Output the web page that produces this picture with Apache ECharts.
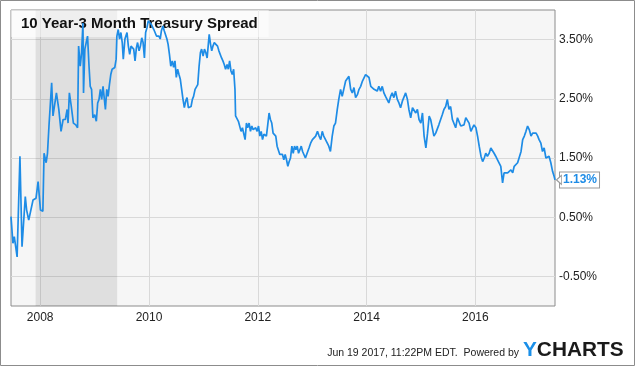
<!DOCTYPE html>
<html>
<head>
<meta charset="utf-8">
<script src="https://cdn.jsdelivr.net/npm/echarts@6/dist/echarts.min.js"></script>
<style>
  html, body { margin: 0; padding: 0; background: #fff; }
  #chart { width: 635px; height: 366px; }
</style>
</head>
<body>
<div id="chart"></div>
<script>
// 10 Year - 3 Month treasury spread, values in percent
const dates = [
  '2007-06-19','2007-07-02','2007-07-11','2007-07-30','2007-08-18','2007-09-01','2007-09-23','2007-10-02','2007-10-16','2007-10-29',
  '2007-11-14','2007-12-04','2007-12-18','2008-01-03','2008-01-19','2008-01-27','2008-02-10','2008-02-19','2008-02-29','2008-03-07',
  '2008-03-18','2008-03-27','2008-04-08','2008-04-19','2008-05-05','2008-05-20','2008-06-03','2008-06-18','2008-06-30','2008-07-06',
  '2008-07-15','2008-07-28','2008-08-11','2008-08-27','2008-09-08','2008-09-15','2008-09-26','2008-10-05','2008-10-14','2008-10-18',
  '2008-10-27','2008-11-06','2008-11-14','2008-11-24','2008-12-02','2008-12-11','2008-12-20','2009-01-01','2009-01-12','2009-01-21',
  '2009-01-30','2009-02-08','2009-02-17','2009-02-26','2009-03-05','2009-03-14','2009-03-23','2009-04-01','2009-04-10','2009-04-19',
  '2009-04-28','2009-05-07','2009-05-16','2009-05-25','2009-05-30','2009-06-08','2009-06-17','2009-06-26','2009-07-05','2009-07-12',
  '2009-07-23','2009-08-06','2009-08-15','2009-08-24','2009-09-02','2009-09-11','2009-09-20','2009-09-29','2009-10-08','2009-10-16',
  '2009-10-26','2009-11-04','2009-11-13','2009-11-22','2009-12-01','2009-12-09','2009-12-18','2009-12-27','2010-01-05','2010-01-15',
  '2010-01-24','2010-02-02','2010-02-11','2010-02-20','2010-03-01','2010-03-08','2010-03-17','2010-03-25','2010-04-04','2010-04-13',
  '2010-04-22','2010-05-01','2010-05-09','2010-05-18','2010-05-27','2010-06-06','2010-06-15','2010-06-24','2010-07-03','2010-07-12',
  '2010-07-21','2010-07-30','2010-08-08','2010-08-17','2010-08-26','2010-09-04','2010-09-13','2010-09-22','2010-10-01','2010-10-10',
  '2010-10-19','2010-10-27','2010-11-06','2010-11-15','2010-11-24','2010-12-03','2010-12-12','2010-12-20','2010-12-30','2011-01-08',
  '2011-01-17','2011-01-26','2011-02-04','2011-02-09','2011-02-18','2011-02-26','2011-03-06','2011-03-15','2011-03-28','2011-04-06',
  '2011-04-15','2011-04-24','2011-05-03','2011-05-12','2011-05-21','2011-05-30','2011-06-09','2011-06-17','2011-06-26','2011-07-05',
  '2011-07-14','2011-07-23','2011-08-01','2011-08-05','2011-08-15','2011-08-24','2011-09-02','2011-09-11','2011-09-20','2011-09-29',
  '2011-10-08','2011-10-17','2011-10-25','2011-11-04','2011-11-13','2011-11-22','2011-12-01','2011-12-10','2011-12-18','2011-12-28',
  '2012-01-06','2012-01-15','2012-01-24','2012-02-02','2012-02-11','2012-02-20','2012-02-28','2012-03-08','2012-03-17','2012-03-26',
  '2012-04-04','2012-04-13','2012-04-22','2012-05-01','2012-05-10','2012-05-19','2012-05-28','2012-06-06','2012-06-15','2012-06-24',
  '2012-07-03','2012-07-12','2012-07-21','2012-07-30','2012-08-08','2012-08-17','2012-08-26','2012-09-04','2012-09-13','2012-09-22',
  '2012-10-01','2012-10-10','2012-10-19','2012-10-28','2012-11-04','2012-11-16','2012-11-29','2012-12-10','2012-12-21','2013-01-02',
  '2013-01-13','2013-01-24','2013-02-05','2013-02-16','2013-02-27','2013-03-09','2013-03-19','2013-04-01','2013-04-12','2013-04-22',
  '2013-05-03','2013-05-15','2013-05-26','2013-06-06','2013-06-18','2013-06-28','2013-07-10','2013-07-21','2013-08-01','2013-08-13',
  '2013-08-24','2013-09-04','2013-09-16','2013-09-27','2013-10-08','2013-10-19','2013-10-31','2013-11-11','2013-11-22','2013-12-04',
  '2013-12-14','2013-12-25','2014-01-07','2014-01-17','2014-01-29','2014-02-10','2014-02-20','2014-03-02','2014-03-13','2014-03-24',
  '2014-04-05','2014-04-16','2014-04-27','2014-05-08','2014-05-19','2014-05-30','2014-06-11','2014-06-22','2014-07-03','2014-07-14',
  '2014-07-26','2014-08-06','2014-08-17','2014-08-29','2014-09-09','2014-09-20','2014-10-02','2014-10-12','2014-10-24','2014-11-05',
  '2014-11-16','2014-11-27','2014-12-08','2014-12-19','2014-12-31','2015-01-11','2015-01-22','2015-02-03','2015-02-14','2015-02-25',
  '2015-03-07','2015-03-18','2015-03-29','2015-04-10','2015-04-21','2015-05-01','2015-05-13','2015-05-24','2015-06-04','2015-06-16',
  '2015-06-27','2015-07-08','2015-07-19','2015-07-31','2015-08-11','2015-08-22','2015-09-03','2015-09-14','2015-09-25','2015-10-07',
  '2015-10-17','2015-10-29','2015-11-10','2015-11-20','2015-12-02','2015-12-13','2015-12-23','2016-01-05','2016-01-16','2016-01-27',
  '2016-02-08','2016-02-19','2016-03-01','2016-03-11','2016-03-22','2016-04-03','2016-04-14','2016-04-25','2016-05-06','2016-05-17',
  '2016-05-29','2016-06-09','2016-06-20','2016-07-02','2016-07-12','2016-07-24','2016-08-05','2016-08-15','2016-08-27','2016-09-08',
  '2016-09-18','2016-09-30','2016-10-11','2016-10-22','2016-11-03','2016-11-14','2016-11-25','2016-12-06','2016-12-17','2016-12-28',
  '2017-01-09','2017-01-20','2017-01-31','2017-02-12','2017-02-23','2017-03-04','2017-03-16','2017-03-27','2017-04-07','2017-04-19',
  '2017-04-30','2017-05-10','2017-05-22','2017-06-03','2017-06-13','2017-06-19'
];
const spread = [
  0.51, 0.06, 0.17, -0.17, 1.53, 0.00, 0.85, 0.62, 0.45, 0.45,
  0.79, 0.82, 1.10, 0.62, 0.60, 1.58, 1.42, 1.58, 2.04, 2.01,
  2.77, 2.21, 2.21, 2.60, 2.32, 1.95, 2.15, 2.15, 2.32, 2.09,
  2.60, 2.37, 2.09, 2.06, 2.01, 3.39, 3.05, 3.28, 3.78, 2.60,
  3.34, 3.31, 3.56, 3.05, 2.71, 2.66, 2.18, 2.23, 2.12, 2.43,
  2.49, 2.66, 2.49, 2.71, 2.74, 2.32, 2.66, 2.54, 2.74, 2.91,
  3.00, 2.97, 3.03, 3.17, 3.56, 3.67, 3.51, 3.62, 3.45, 3.17,
  3.51, 3.62, 3.39, 3.25, 3.39, 3.36, 3.34, 3.14, 3.36, 3.45,
  3.31, 3.39, 3.53, 3.45, 3.19, 3.62, 3.70, 3.82, 3.84, 3.76,
  3.73, 3.67, 3.65, 3.56, 3.53, 3.56, 3.51, 3.65, 3.73, 3.65,
  3.65, 3.51, 3.42, 3.25, 3.05, 3.14, 3.03, 3.14, 2.86, 3.00,
  2.91, 2.83, 2.66, 2.49, 2.35, 2.46, 2.52, 2.35, 2.32, 2.37,
  2.49, 2.54, 2.66, 2.69, 2.74, 3.05, 3.28, 3.34, 3.22, 3.34,
  3.28, 3.19, 3.45, 3.59, 3.42, 3.31, 3.39, 3.45, 3.48, 3.39,
  3.31, 3.28, 3.19, 3.14, 3.08, 3.00, 3.08, 3.00, 3.14, 2.97,
  2.91, 3.00, 2.66, 2.21, 2.18, 2.12, 2.09, 1.95, 2.01, 2.04,
  1.81, 2.09, 2.01, 2.09, 1.95, 2.04, 1.98, 1.95, 2.01, 1.95,
  2.04, 1.87, 1.95, 1.81, 1.90, 1.87, 1.87, 2.06, 2.26, 2.15,
  2.09, 1.92, 1.92, 1.87, 1.70, 1.67, 1.56, 1.58, 1.56, 1.47,
  1.56, 1.47, 1.36, 1.44, 1.50, 1.70, 1.58, 1.70, 1.64, 1.70,
  1.58, 1.64, 1.70, 1.61, 1.61, 1.50, 1.53, 1.67, 1.75, 1.81,
  1.78, 1.87, 1.95, 1.87, 1.81, 1.95, 1.87, 1.84, 1.75, 1.70,
  1.61, 1.87, 2.04, 2.09, 2.32, 2.49, 2.66, 2.54, 2.57, 2.80,
  2.83, 2.88, 2.66, 2.60, 2.69, 2.52, 2.57, 2.66, 2.71, 2.80,
  2.83, 2.91, 2.94, 2.86, 2.71, 2.69, 2.66, 2.69, 2.63, 2.71,
  2.63, 2.71, 2.60, 2.54, 2.52, 2.43, 2.54, 2.60, 2.52, 2.63,
  2.49, 2.43, 2.35, 2.46, 2.49, 2.60, 2.49, 2.32, 2.18, 2.35,
  2.32, 2.26, 2.32, 2.15, 2.09, 2.26, 1.87, 1.67, 1.92, 2.21,
  2.15, 2.01, 1.87, 1.92, 1.95, 2.06, 2.15, 2.23, 2.32, 2.37,
  2.49, 2.32, 2.37, 2.15, 2.15, 2.01, 2.18, 2.18, 2.04, 2.04,
  2.06, 2.18, 2.15, 2.09, 1.95, 2.01, 2.06, 2.01, 1.87, 1.70,
  1.53, 1.44, 1.50, 1.58, 1.53, 1.58, 1.67, 1.70, 1.58, 1.53,
  1.47, 1.47, 1.36, 1.08, 1.25, 1.27, 1.25, 1.27, 1.30, 1.25,
  1.36, 1.39, 1.42, 1.44, 1.61, 1.81, 1.87, 1.95, 2.04, 1.98,
  1.87, 1.92, 1.90, 1.92, 1.87, 1.81, 1.75, 1.61, 1.67, 1.50,
  1.53, 1.53, 1.42, 1.27, 1.19, 1.13
];
const recession = ['2007-12-01', '2009-06-01'];
const yearTicks = ['2008-01-01', '2010-01-01', '2012-01-01', '2014-01-01', '2016-01-01'];
const yTicks = [-0.5, 0.5, 1.5, 2.5, 3.5];

const font = "'Liberation Sans', Arial, sans-serif";
const toTime = (d) => echarts.number.parseDate(d).getTime();
const xTicks = yearTicks.map(toTime);
const lastIdx = dates.length - 1;

const chart = echarts.init(document.getElementById('chart'));

const option = {
  animation: false,
  textStyle: { fontFamily: font },
  title: {
    text: '10 Year-3 Month Treasury Spread',
    left: 11,
    top: 10,
    z: 2,
    padding: [6, 11, 6, 10],
    backgroundColor: 'rgba(255,255,255,0.5)',
    textStyle: {
      fontFamily: font,
      fontSize: 15,
      fontWeight: 'bold',
      color: '#111',
      lineHeight: 15,
    },
  },
  grid: {
    left: 11,
    right: 80,
    top: 10,
    bottom: 60,
    show: true,
    backgroundColor: '#f6f6f6',
    borderColor: '#8c8c8c',
    borderWidth: 1,
  },
  xAxis: {
    type: 'value',
    min: toTime(dates[0]),
    max: toTime(dates[lastIdx]),
    axisLine: { show: false },
    axisTick: { show: false, customValues: xTicks },
    axisLabel: {
      customValues: xTicks,
      formatter: (v) => String(new Date(v).getFullYear()),
      color: '#222',
      fontSize: 12,
      margin: 6,
    },
    splitLine: { show: true, lineStyle: { color: '#d9d9d9', width: 1 } },
  },
  yAxis: {
    type: 'value',
    position: 'right',
    min: -1,
    max: 4,
    axisLine: { show: false },
    axisTick: { show: false, customValues: yTicks },
    axisLabel: {
      customValues: yTicks,
      formatter: (v) => v.toFixed(2) + '%',
      color: '#222',
      fontSize: 12,
      margin: 4,
    },
    splitLine: { show: true, lineStyle: { color: '#d9d9d9', width: 1 } },
  },
  series: [
    {
      type: 'line',
      z: 3,
      data: dates.map((d, i) => [toTime(d), spread[i]]),
      showSymbol: false,
      lineStyle: { color: '#1e8ce6', width: 1.7 },
      itemStyle: { color: '#1e8ce6' },
      endLabel: {
        show: true,
        formatter: (p) => p.value[1].toFixed(2) + '%',
        color: '#1e8ce6',
        fontWeight: 'bold',
        fontSize: 12,
        backgroundColor: '#fff',
        borderColor: '#999',
        borderWidth: 1,
        padding: [2, 2, 1, 3],
        distance: 5,
      },
      markArea: {
        silent: true,
        itemStyle: { color: 'rgba(0,0,0,0.09)' },
        data: [[{ xAxis: toTime(recession[0]) }, { xAxis: toTime(recession[1]) }]],
      },
      markPoint: {
        silent: true,
        symbol: 'triangle',
        symbolSize: [9, 5],
        symbolRotate: 90,
        symbolOffset: [4, 0],
        itemStyle: { color: '#fff', borderColor: '#999', borderWidth: 1 },
        label: { show: false },
        data: [{ coord: [toTime(dates[lastIdx]), spread[lastIdx]] }],
      },
    },
  ],
  graphic: [
    {
      type: 'rect',
      silent: true,
      shape: { x: 0.5, y: 0.5, width: 634, height: 365 },
      style: { fill: 'none', stroke: '#8c8c8c', lineWidth: 1 },
    },
    {
      type: 'text',
      x: 519,
      y: 353,
      silent: true,
      style: {
        text: 'Jun 19 2017, 11:22PM EDT.  Powered by',
        font: '10.5px ' + font,
        fill: '#222',
        align: 'right',
        verticalAlign: 'middle',
      },
    },
    {
      type: 'text',
      x: 523,
      y: 350,
      silent: true,
      style: {
        text: '{y|Y}{c|CHARTS}',
        verticalAlign: 'middle',
        rich: {
          y: { fill: '#1a8fe8', fontSize: 20.8, fontWeight: 'bold', fontFamily: font },
          c: { fill: '#1a1a1a', fontSize: 20.8, fontWeight: 'bold', fontFamily: font },
        },
      },
    },
  ],
};

chart.setOption(option);
</script>
</body>
</html>
